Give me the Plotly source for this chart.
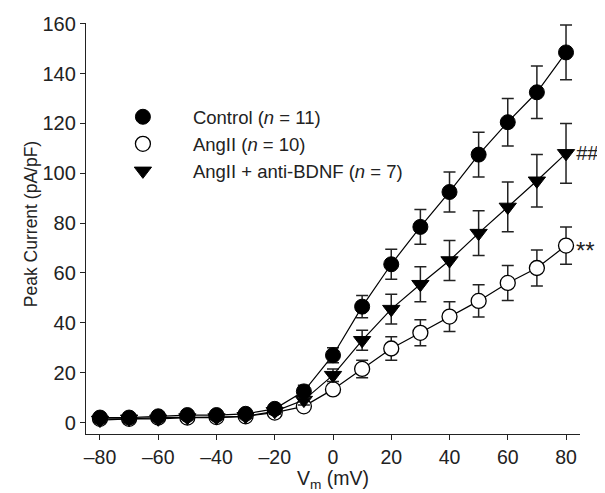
import plotly.graph_objects as go

vm = [-80, -70, -60, -50, -40, -30, -20, -10, 0, 10, 20, 30, 40, 50, 60, 70, 80]

control = [2.0, 2.0, 2.5, 3.0, 3.0, 3.5, 5.5, 12.5, 27.0, 46.5, 63.5, 78.5, 92.5, 107.5, 120.5, 132.5, 148.5]
control_err = [0.8, 0.8, 0.8, 0.9, 0.9, 1.0, 1.5, 2.5, 3.0, 4.5, 6.0, 7.0, 8.0, 9.0, 9.5, 10.5, 11.0]

angii = [1.5, 1.5, 2.0, 2.0, 2.2, 2.5, 4.0, 6.5, 13.3, 21.5, 29.7, 36.0, 42.5, 48.8, 56.0, 62.0, 71.0]
angii_err = [0.6, 0.6, 0.7, 0.7, 0.7, 0.8, 1.0, 1.5, 2.0, 3.5, 4.7, 5.2, 6.0, 6.5, 7.0, 7.2, 7.5]

anti = [1.0, 1.5, 1.5, 2.0, 2.0, 2.5, 4.5, 9.0, 19.0, 33.0, 45.5, 55.5, 65.0, 76.0, 86.5, 97.0, 108.0]
anti_err = [0.6, 0.6, 0.7, 0.7, 0.8, 0.8, 1.2, 2.0, 2.5, 4.0, 6.0, 7.0, 8.0, 9.0, 10.0, 10.5, 12.0]

labels = ["Control (<i>n</i> = 11)", "AngII (<i>n</i> = 10)", "AngII + anti-BDNF (<i>n</i> = 7)"]
xticks = [-80, -60, -40, -20, 0, 20, 40, 60, 80]
xticktext = ["\u201380", "\u201360", "\u201340", "\u201320", "0", "20", "40", "60", "80"]
yticks = [0, 20, 40, 60, 80, 100, 120, 140, 160]

FONT = "Liberation Sans, Arial, sans-serif"
INK = "#222"
fig = go.Figure()

series = [
    (angii, angii_err, dict(symbol="circle", color="white", size=15, line=dict(color="black", width=1.3))),
    (anti, anti_err, dict(symbol="triangle-down", color="black", size=15, line=dict(color="black", width=1))),
    (control, control_err, dict(symbol="circle", color="black", size=15, line=dict(color="black", width=1))),
]
for y, e, m in series:
    fig.add_trace(go.Scatter(
        x=vm, y=y, mode="lines+markers",
        line=dict(color="black", width=1.2),
        marker=m,
        error_y=dict(type="data", array=e, visible=True, color=INK, thickness=1.5, width=6),
        showlegend=False, cliponaxis=False,
    ))

leg_markers = [
    dict(symbol="circle", color="black", size=15, line=dict(color="black", width=1)),
    dict(symbol="circle", color="white", size=15, line=dict(color="black", width=1.3)),
    dict(symbol="triangle-down", color="black", size=15, line=dict(color="black", width=1)),
]
for lab, m in zip(labels, leg_markers):
    fig.add_trace(go.Scatter(x=[None], y=[None], mode="markers", marker=m, name=lab, showlegend=True))

fig.add_annotation(x=80, y=anti[-1], text="<i>##</i>", showarrow=False, xanchor="left", xshift=9,
                   borderpad=0, font=dict(size=20, color=INK, family=FONT))
fig.add_annotation(x=80, y=angii[-1], text="**", showarrow=False, xanchor="left", xshift=9, yshift=-5,
                   borderpad=0, font=dict(size=24, color=INK, family=FONT))

# axis titles
fig.add_annotation(x=0, xref="x", y=-0.110, yref="paper", text="V<sub>m</sub> (mV)", showarrow=False,
                   xanchor="center", yanchor="middle", font=dict(size=19.5, color=INK, family=FONT))
fig.add_annotation(x=-0.111, xref="paper", y=0.511, yref="paper", text="Peak Current (pA/pF)", showarrow=False,
                   textangle=-90, xanchor="center", yanchor="middle", font=dict(size=17.5, color=INK, family=FONT))

# page body has an 8px margin, so the figure is sized/offset to compensate
fig.update_layout(
    width=597, height=485,
    margin=dict(l=78, r=25, t=14.7, b=58.7, autoexpand=False),
    paper_bgcolor="white", plot_bgcolor="white",
    font=dict(family=FONT, size=20, color=INK),
    legend=dict(x=0.014, y=0.705, xanchor="left", yanchor="middle", bgcolor="rgba(0,0,0,0)",
                font=dict(size=18.5, family=FONT, color=INK), itemwidth=90, tracegroupgap=0),
)
fig.update_xaxes(
    range=[-84.8, 84.8], tickvals=xticks, ticktext=xticktext, automargin=False,
    showline=True, linecolor=INK, linewidth=1.3, ticks="outside", ticklen=5, tickcolor=INK,
    showgrid=False, zeroline=False, tickfont=dict(size=19.5),
)
fig.update_yaxes(
    range=[-4.6, 160.3], tickvals=yticks, automargin=False,
    showline=True, linecolor=INK, linewidth=1.3, ticks="outside", ticklen=5, tickcolor=INK,
    showgrid=False, zeroline=False, tickfont=dict(size=20),
)

fig.write_html("out.html")
